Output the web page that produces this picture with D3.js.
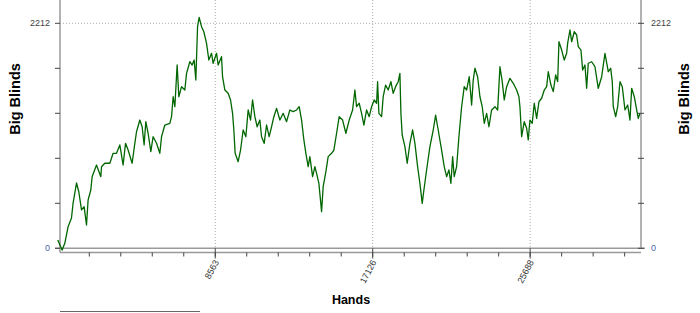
<!DOCTYPE html>
<html>
<head>
<meta charset="utf-8">
<style>
  body { margin: 0; background: #fff; }
  text { font-family: "Liberation Sans", Arial, sans-serif; }
  .line { fill: none; stroke: #006600; stroke-width: 1.3; stroke-linejoin: round; }
</style>
</head>
<body>
<svg id="chart" width="700" height="313"></svg>
<script src="https://cdn.jsdelivr.net/npm/d3@7"></script>
<script>
// hands played
const hands = [0, 234, 381, 560, 745, 832, 1017, 1142, 1289, 1431, 1561, 1648, 1795, 1866, 2105, 2339, 2377, 2557, 2829, 3008,
  3193, 3373, 3552, 3683, 3824, 4042, 4189, 4281, 4461, 4586, 4695, 4787, 4912, 5059, 5184, 5369, 5549, 5641, 5821, 6093,
  6185, 6272, 6365, 6490, 6582, 6729, 6909, 7001, 7181, 7306, 7415, 7507, 7600, 7687, 7817, 7942, 8089, 8214, 8361, 8448,
  8633, 8720, 8905, 8960, 9085, 9264, 9395, 9504, 9574, 9645, 9808, 9939, 10080, 10227, 10352, 10483, 10592, 10717, 10842, 10989,
  11081, 11223, 11353, 11495, 11625, 11750, 11897, 12077, 12256, 12441, 12621, 12800, 12985, 13127, 13257, 13382, 13491, 13616, 13709, 13856,
  13981, 14074, 14198, 14345, 14432, 14579, 14704, 14889, 15014, 15161, 15303, 15488, 15667, 15847, 16032, 16157, 16249, 16391, 16521, 16646,
  16793, 16935, 17065, 17207, 17337, 17392, 17462, 17609, 17696, 17827, 17968, 18115, 18240, 18371, 18512, 18605, 18659, 18730, 18877, 19002,
  19149, 19296, 19421, 19568, 19693, 19818, 19910, 20057, 20237, 20417, 20547, 20688, 20873, 21015, 21145, 21270, 21379, 21472, 21559, 21689,
  21814, 21961, 22103, 22233, 22375, 22505, 22592, 22685, 22832, 22957, 23082, 23191, 23321, 23446, 23593, 23773, 23920, 24045, 24170, 24279,
  24409, 24589, 24769, 24953, 25078, 25133, 25225, 25367, 25497, 25584, 25677, 25802, 25911, 26041, 26166, 26313, 26455, 26585, 26672, 26819,
  26944, 27075, 27184, 27254, 27401, 27543, 27673, 27727, 27853, 27945, 28087, 28217, 28304, 28451, 28543, 28669, 28761, 28848, 29033, 29213,
  29392, 29577, 29757, 29937, 30067, 30154, 30209, 30340, 30448, 30573, 30698, 30845, 30992, 31117, 31209, 31351, 31481, 31568, 31661];

// running total in big blinds
const bigBlinds = [82, -17, 49, 212, 298, 445, 642, 556, 377, 409, 229, 475, 573, 704, 819, 704, 802, 836, 836, 934,
  934, 1016, 819, 1032, 966, 836, 1032, 1146, 1261, 1195, 1016, 1245, 1131, 950, 1097, 1032, 934, 1097, 1212, 1229,
  1294, 1490, 1392, 1802, 1490, 1589, 1556, 1720, 1834, 1802, 1851, 1654, 2179, 2271, 2179, 2129, 2015, 1851, 1917, 1819,
  1917, 1802, 1884, 1687, 1556, 1524, 1458, 1327, 1163, 934, 851, 966, 1163, 1097, 1360, 1261, 1458, 1294, 1195, 1261,
  1097, 1032, 1212, 1097, 1195, 1294, 1376, 1261, 1327, 1245, 1360, 1343, 1360, 1392, 1261, 1065, 934, 802, 901, 704,
  802, 737, 639, 360, 606, 753, 901, 934, 966, 1131, 1294, 1261, 1131, 1261, 1360, 1556, 1392, 1426, 1327, 1212,
  1360, 1294, 1392, 1458, 1426, 1638, 1327, 1294, 1490, 1605, 1556, 1638, 1524, 1589, 1638, 1720, 1327, 1114, 999, 836,
  1032, 1163, 1032, 802, 639, 442, 573, 770, 999, 1163, 1310, 1163, 966, 802, 704, 770, 639, 901, 704, 802,
  1097, 1392, 1589, 1556, 1687, 1409, 1654, 1770, 1687, 1490, 1392, 1229, 1327, 1195, 1360, 1392, 1360, 1785, 1638, 1458,
  1589, 1671, 1622, 1556, 1490, 1392, 1097, 1245, 1180, 1065, 1261, 1229, 1426, 1278, 1441, 1475, 1556, 1589, 1736, 1605,
  1540, 1704, 1638, 2031, 1949, 1851, 1917, 2015, 2146, 2031, 2129, 2097, 1982, 1949, 1753, 1802, 1573, 1819, 1834, 1785,
  1573, 1687, 1917, 1736, 1770, 1638, 1392, 1294, 1392, 1638, 1589, 1360, 1409, 1261, 1573, 1490, 1360, 1278, 1327];

const yLabels = [0, 2212];
const xLabels = [8563, 17126, 25688];
const minorStep = 1712.6;

const svg = d3.select("#chart");
const x = d3.scaleLinear().domain([0, 31700]).range([57.8, 640.7]);
const y = d3.scaleLinear().domain([0, 2212]).range([248.3, 23.3]);
const left = 60, right = 641, bottom = 252.5;

// grid
svg.append("line").attr("x1", left).attr("x2", right)
  .attr("y1", y(2212)).attr("y2", y(2212))
  .attr("stroke", "#aaa").attr("stroke-dasharray", "1,2");
svg.selectAll(".vgrid").data(xLabels).enter().append("line")
  .attr("x1", d => x(d)).attr("x2", d => x(d))
  .attr("y1", 0).attr("y2", y(0))
  .attr("stroke", "#aaa").attr("stroke-dasharray", "1,2");

// frame
svg.append("line").attr("x1", 55).attr("x2", 645).attr("y1", y(0)).attr("y2", y(0))
  .attr("stroke", "#999").attr("stroke-width", 1.5);
svg.append("line").attr("x1", left).attr("x2", right).attr("y1", bottom).attr("y2", bottom)
  .attr("stroke", "#999").attr("stroke-width", 1.5);
svg.append("line").attr("x1", left).attr("x2", left).attr("y1", 0).attr("y2", bottom)
  .attr("stroke", "#999").attr("stroke-width", 1.5);
svg.append("line").attr("x1", right).attr("x2", right).attr("y1", 0).attr("y2", y(0))
  .attr("stroke", "#999").attr("stroke-width", 1.5);

// y ticks (every fifth of 2212)
const yTicks = d3.range(6).map(i => i * 2212 / 5);
svg.selectAll(".ytl").data(yTicks).enter().append("line")
  .attr("x1", 55).attr("x2", left).attr("y1", d => y(d)).attr("y2", d => y(d))
  .attr("stroke", "#444");
svg.selectAll(".ytr").data(yTicks).enter().append("line")
  .attr("x1", right - 3).attr("x2", right + 3).attr("y1", d => y(d)).attr("y2", d => y(d))
  .attr("stroke", "#444");

svg.selectAll(".yl").data(yLabels).enter().append("text")
  .attr("x", 50).attr("y", d => y(d) + 3)
  .attr("text-anchor", "end").attr("font-size", 9)
  .attr("fill", d => d === 0 ? "#4a64a8" : "#444")
  .text(d => d);
svg.selectAll(".yr").data(yLabels).enter().append("text")
  .attr("x", 651).attr("y", d => y(d) + 3)
  .attr("font-size", 9)
  .attr("fill", d => d === 0 ? "#4a64a8" : "#444")
  .text(d => d);

// x ticks
const xTicks = d3.range(1, 19).map(i => i * minorStep);
svg.selectAll(".xt").data(xTicks).enter().append("line")
  .attr("x1", d => x(d)).attr("x2", d => x(d))
  .attr("y1", bottom).attr("y2", bottom + 4)
  .attr("stroke", "#444");
svg.selectAll(".xtm").data(xLabels).enter().append("line")
  .attr("x1", d => x(d)).attr("x2", d => x(d))
  .attr("y1", y(0)).attr("y2", bottom + 6)
  .attr("stroke", "#444");
svg.selectAll(".xl").data(xLabels).enter().append("text")
  .attr("transform", d => `translate(${x(d) + 4},262) rotate(-62)`)
  .attr("text-anchor", "end").attr("font-size", 9).attr("fill", "#333")
  .text(d => d);

// data line
const pts = hands.map((h, i) => [h, bigBlinds[i]]);
svg.append("path").datum(pts).attr("class", "line")
  .attr("d", d3.line().x(d => x(d[0])).y(d => y(d[1])));

// titles
svg.append("text").attr("transform", "translate(20,99) rotate(-90)")
  .attr("text-anchor", "middle").attr("font-size", 14.5).attr("font-weight", "bold")
  .text("Big Blinds");
svg.append("text").attr("transform", "translate(689,99) rotate(-90)")
  .attr("text-anchor", "middle").attr("font-size", 14.5).attr("font-weight", "bold")
  .text("Big Blinds");
svg.append("text").attr("x", 351).attr("y", 304)
  .attr("text-anchor", "middle").attr("font-size", 12.5).attr("font-weight", "bold")
  .text("Hands");

svg.append("line").attr("x1", 60).attr("x2", 200).attr("y1", 311.5).attr("y2", 311.5)
  .attr("stroke", "#666");
</script>
</body>
</html>
